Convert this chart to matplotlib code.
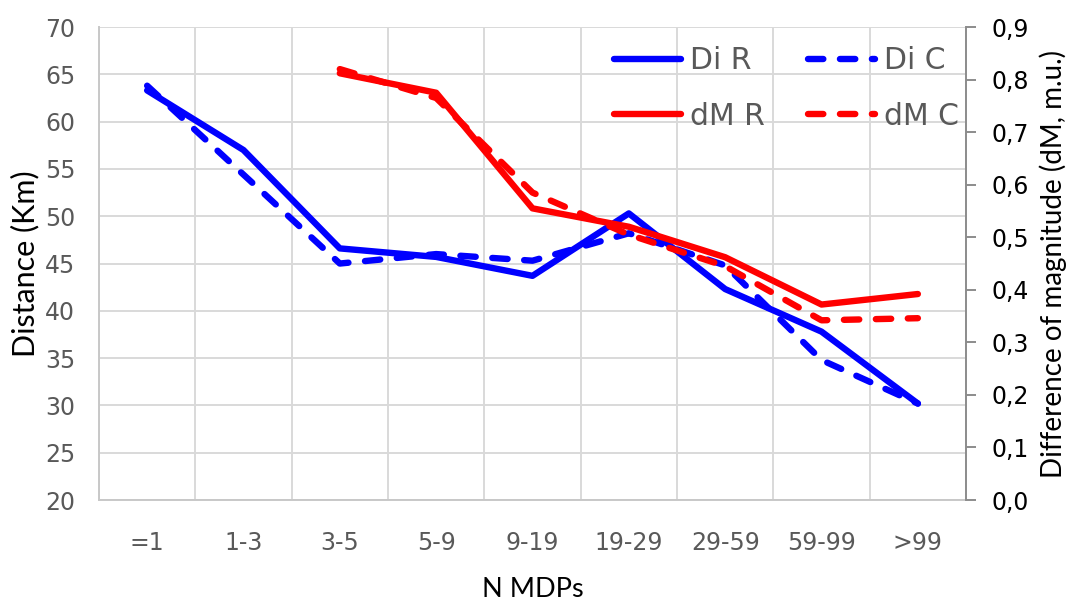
import matplotlib
matplotlib.use("Agg")
import matplotlib.pyplot as plt
from matplotlib.ticker import FuncFormatter, FixedLocator

# categories on the x axis
groups = ["=1", "1-3", "3-5", "5-9", "9-19", "19-29", "29-59", "59-99", ">99"]

# distance (Km), left axis
di_r = [63.3, 57.0, 46.6, 45.7, 43.7, 50.3, 42.3, 37.8, 30.2]
di_c = [63.8, 54.4, 45.0, 46.0, 45.3, 48.2, 44.8, 34.8, 30.2]

# difference of magnitude (dM, m.u.), right axis, starts at 3-5
dm_groups = groups[2:]
dm_r = [0.812, 0.775, 0.555, 0.520, 0.462, 0.372, 0.392]
dm_c = [0.820, 0.765, 0.585, 0.505, 0.445, 0.342, 0.346]

GRAY = "#595959"
GRID = "#d9d9d9"
TICK_FONT = "DejaVu Sans"
LABEL_FONT = "Lato"

plt.rcParams["font.family"] = ["DejaVu Sans"]

fig, ax = plt.subplots(figsize=(10.71, 6.01), dpi=100)
fig.subplots_adjust(left=0.0924, right=0.902, bottom=0.168, top=0.955)
ax2 = ax.twinx()

x = list(range(len(groups)))
x_dm = [groups.index(g) for g in dm_groups]

DASH = (0, (2.4, 2.6))
line_kw = dict(lw=4.6, solid_capstyle="round", dash_capstyle="round",
               solid_joinstyle="round", dash_joinstyle="round")
l1, = ax.plot(x, di_r, color="#0000ff", label="Di R", **line_kw)
l2, = ax.plot(x, di_c, color="#0000ff", ls=DASH, label="Di C", **line_kw)
l3, = ax2.plot(x_dm, dm_r, color="#ff0000", label="dM R", **line_kw)
l4, = ax2.plot(x_dm, dm_c, color="#ff0000", ls=DASH, label="dM C", **line_kw)

# left axis
ax.set_xlim(-0.5, len(groups) - 0.5)
ax.set_ylim(20, 70)
ax.set_yticks(range(20, 71, 5))
ax.set_xticks(x)
ax.set_xticklabels(groups)
ax.xaxis.set_minor_locator(FixedLocator([i - 0.5 for i in range(len(groups) + 1)]))
ax.grid(True, which="major", axis="y", color=GRID, lw=1.4)
ax.grid(True, which="minor", axis="x", color=GRID, lw=1.4)
ax.set_axisbelow(True)
ax.tick_params(axis="both", which="both", length=0, labelsize=17,
               labelcolor=GRAY, labelfontfamily=TICK_FONT)
ax.tick_params(axis="x", pad=22)
ax.tick_params(axis="y", pad=17)
for side in ["top", "right"]:
    ax.spines[side].set_visible(False)
for side in ["left", "bottom"]:
    ax.spines[side].set_color("#c8c8c8")
    ax.spines[side].set_linewidth(1.4)
ax.set_xlabel("N MDPs", fontsize=19.5, family=LABEL_FONT, labelpad=16)
ax.set_ylabel("Distance (Km)", fontsize=22, family=LABEL_FONT, labelpad=4)

# right axis
ax2.set_ylim(0, 0.9)
ax2.set_yticks([i / 10 for i in range(10)])
ax2.yaxis.set_major_formatter(FuncFormatter(lambda v, p: f"{v:.1f}".replace(".", ",")))
ax2.tick_params(axis="y", length=7, width=1.4, color="#8c8c8c", labelsize=17,
                labelcolor="black", pad=11, labelfontfamily=TICK_FONT)
for side in ["top", "left", "bottom"]:
    ax2.spines[side].set_visible(False)
ax2.spines["right"].set_color("#8c8c8c")
ax2.spines["right"].set_linewidth(1.4)
ax2.set_ylabel("Difference of magnitude (dM, m.u.)", fontsize=20,
               family=LABEL_FONT, labelpad=8)

leg = ax2.legend(handles=[l1, l3, l2, l4], ncol=2, loc="upper right",
                 bbox_to_anchor=(959 / 1071, 1 - 46 / 601),
                 bbox_transform=fig.transFigure, frameon=False,
                 prop={"family": TICK_FONT, "size": 21.5},
                 handlelength=2.25, handletextpad=0.3, columnspacing=1.45,
                 labelspacing=0.9, borderaxespad=0, borderpad=0)
for t in leg.get_texts():
    t.set_color(GRAY)

plt.savefig("out.png", dpi=100)
